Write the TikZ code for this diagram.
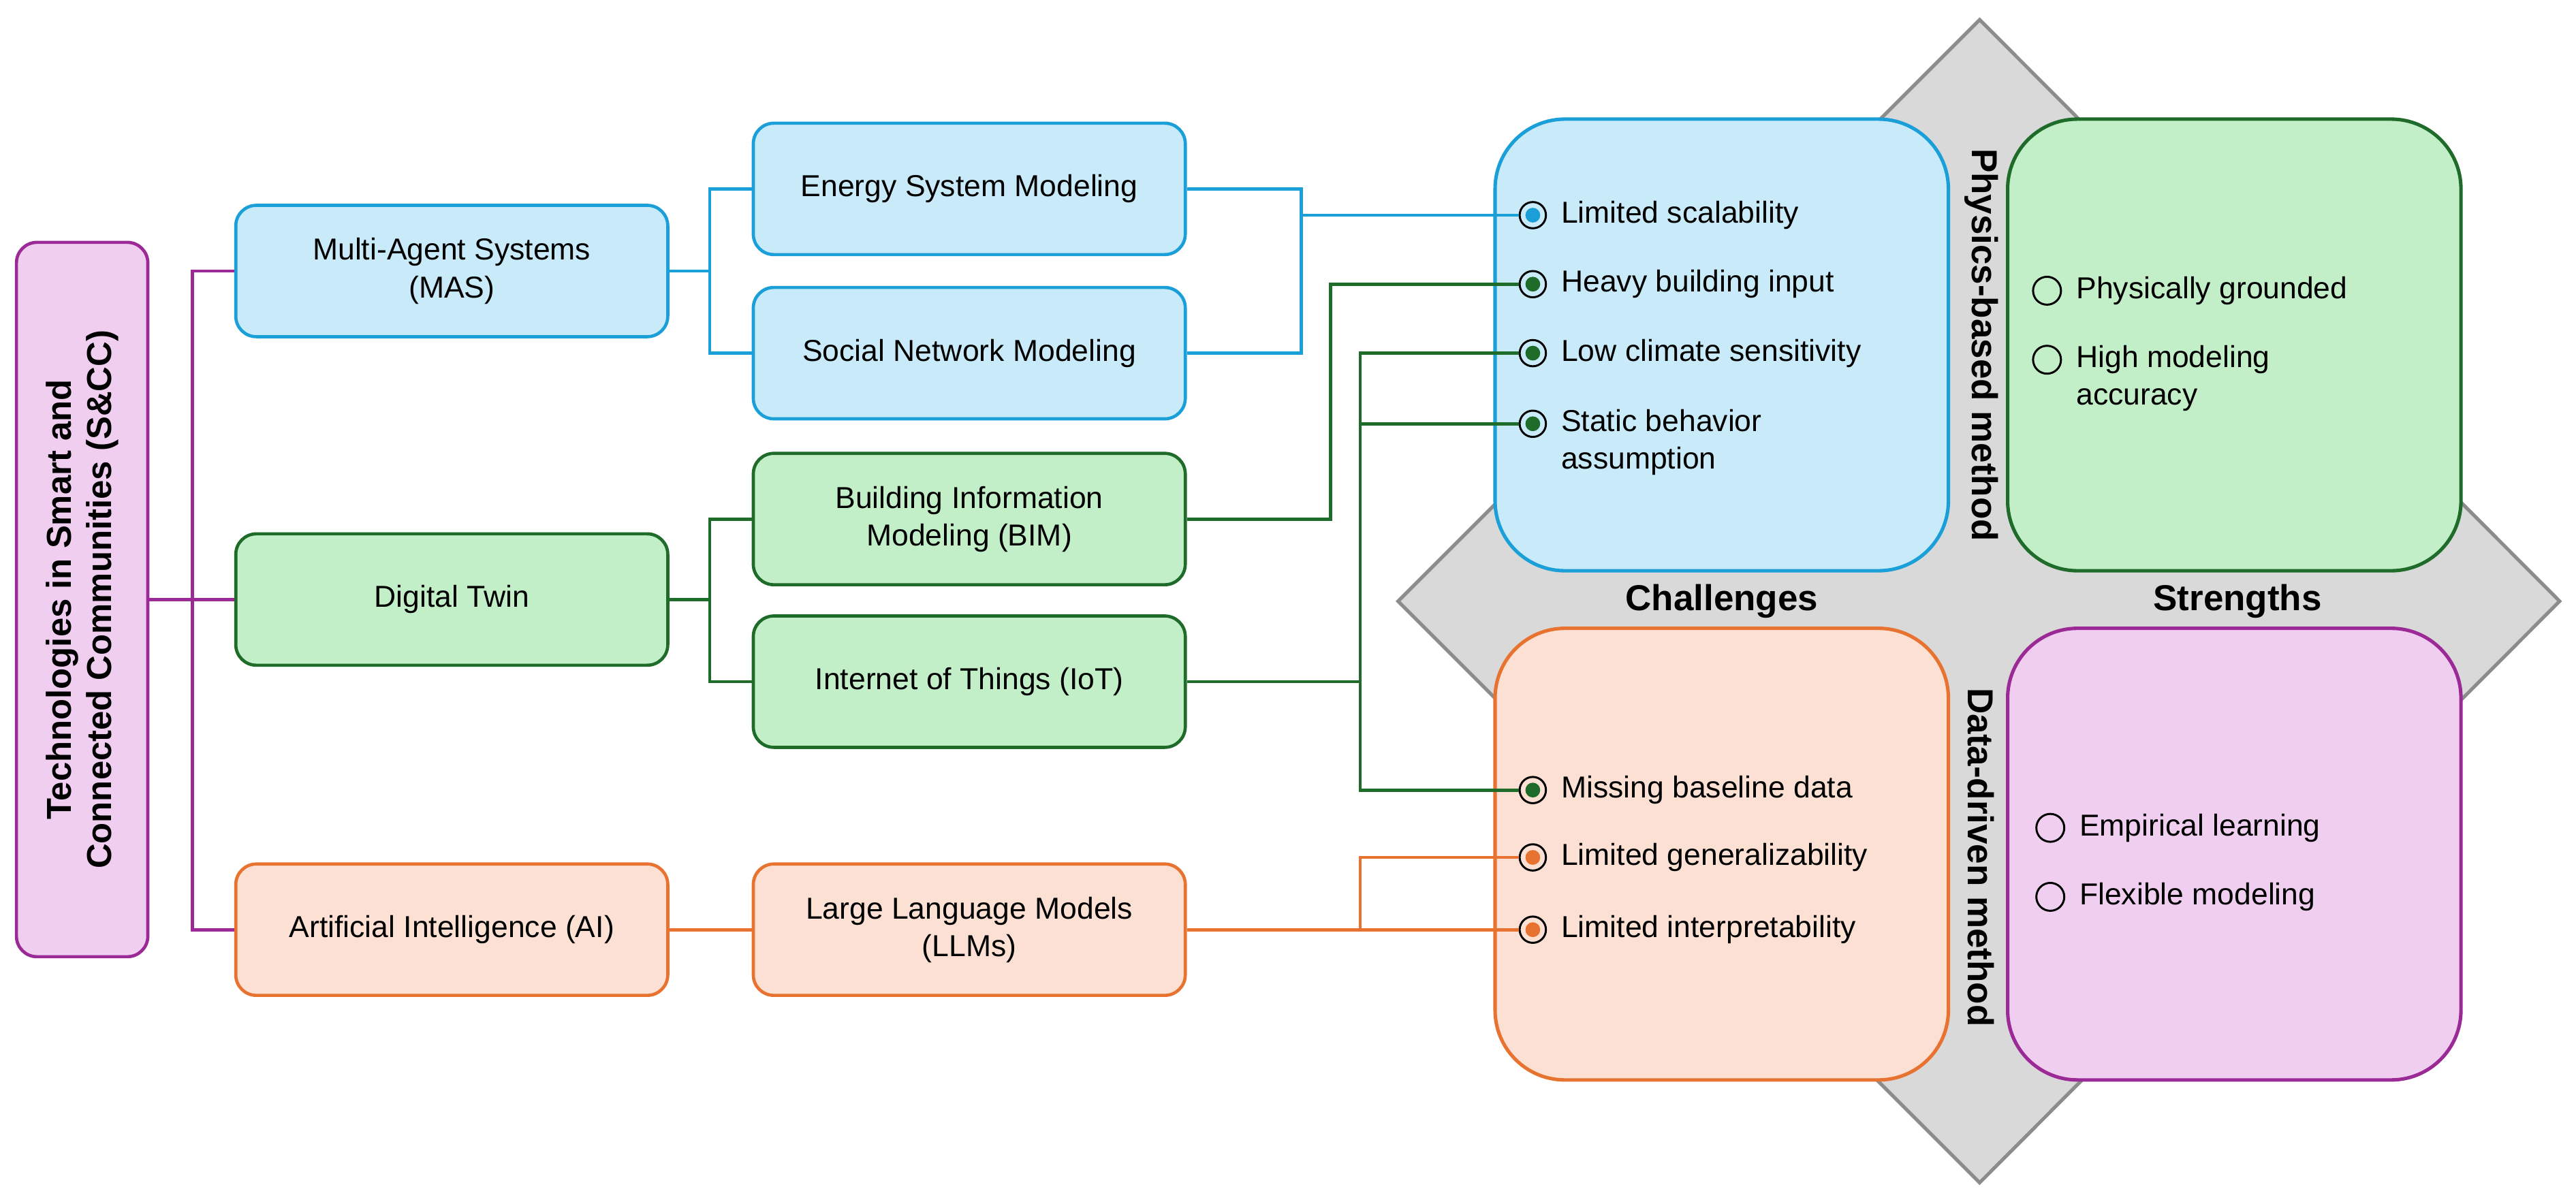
\documentclass[tikz,border=0pt]{standalone}
\usepackage{fontspec}
\setmainfont{Liberation Sans}
\usetikzlibrary{positioning}
\definecolor{bluefill}{HTML}{C9EBF9}
\definecolor{blueline}{HTML}{1A9FD8}
\definecolor{greenfill}{HTML}{C2EFC8}
\definecolor{greenline}{HTML}{1E6B2A}
\definecolor{orangefill}{HTML}{FBE0D3}
\definecolor{orangeline}{HTML}{E87330}
\definecolor{purplefill}{HTML}{F0CEF0}
\definecolor{purpleline}{HTML}{9B2A96}
\tikzset{
  box/.style={draw=#1line, fill=#1fill, line width=1.1pt, rounded corners=0.25cm,
    minimum width=5.26cm, minimum height=1.6cm, align=center, font=\fontsize{10.5}{13}\selectfont},
  quad/.style={draw=#1line, fill=#1fill, line width=1.2pt, rounded corners=0.85cm,
    minimum width=5.52cm, minimum height=5.5cm},
  bul/.style={circle, draw=black, line width=0.7pt, minimum size=0.32cm, inner sep=0,
    path picture={\fill[#1] (path picture bounding box.center) circle (0.09cm);}},
  hol/.style={circle, draw=black, line width=0.7pt, minimum size=0.34cm, inner sep=0},
  lab/.style={right=0.05cm, font=\fontsize{10.5}{13}\selectfont, align=left},
  wire/.style={line width=1.1pt, draw=#1line},
}
\begin{document}
\begin{tikzpicture}[x=0.02cm, y=-0.02cm]
\useasboundingbox (0,0) rectangle (1568,733);
% gray diamond behind the quadrants
\filldraw[fill=gray!30, draw=gray!90, line width=1.2pt] (1205,12) -- (1558,366) -- (1205,720) -- (851,366) -- cycle;

% quadrants
\node[quad=blue] (phy) at (1048,210) {};
\node[quad=green] (phs) at (1360,210) {};
\node[quad=orange] (dac) at (1048,520) {};
\node[quad=purple] (das) at (1360,520) {};
\node[font=\fontsize{12.5}{15}\selectfont\bfseries] (chal) at (1048,366) {Challenges};
\node[font=\fontsize{12.5}{15}\selectfont\bfseries] (stre) at (1362,366) {Strengths};
\node[rotate=-90, font=\fontsize{12.5}{15}\selectfont\bfseries] (pbm) at (1206,210) {Physics-based method};
\node[rotate=-90, font=\fontsize{12.5}{15}\selectfont\bfseries] (ddm) at (1206,522) {Data-driven method};

% left tree
\node[box=purple, rotate=90, minimum width=8.7cm, font=\fontsize{12}{14}\selectfont\bfseries] (tech) at (50,365)
  {Technologies in Smart and\\Connected Communities (S\&CC)};
\node[box=blue] (mas) at (275,165) {Multi-Agent Systems\\(MAS)};
\node[box=green] (dt) at (275,365) {Digital Twin};
\node[box=orange] (ai) at (275,566) {Artificial Intelligence (AI)};
\node[box=blue] (esm) at (590,115) {Energy System Modeling};
\node[box=blue] (snm) at (590,215) {Social Network Modeling};
\node[box=green] (bim) at (590,316) {Building Information\\Modeling (BIM)};
\node[box=green] (iot) at (590,415) {Internet of Things (IoT)};
\node[box=orange] (llm) at (590,566) {Large Language Models\\(LLMs)};

% challenge bullets
\node[bul=blueline] (b1) at (933,131) {};
\node[bul=greenline] (b2) at (933,173) {};
\node[bul=greenline] (b3) at (933,215) {};
\node[bul=greenline] (b4) at (933,258) {};
\node[bul=greenline] (b5) at (933,481) {};
\node[bul=orangeline] (b6) at (933,522) {};
\node[bul=orangeline] (b7) at (933,566) {};
\node[lab] at (b1.east) {Limited scalability};
\node[lab] at (b2.east) {Heavy building input};
\node[lab] at (b3.east) {Low climate sensitivity};
\node[lab, anchor=north west] at ([yshift=0.3cm]b4.east) {Static behavior\\assumption};
\node[lab] at (b5.east) {Missing baseline data};
\node[lab] at (b6.east) {Limited generalizability};
\node[lab] at (b7.east) {Limited interpretability};

% strength bullets
\node[hol] (s1) at (1246,177) {};
\node[hol] (s2) at (1246,219) {};
\node[hol] (s3) at (1248,504) {};
\node[hol] (s4) at (1248,546) {};
\node[lab] at (s1.east) {Physically grounded};
\node[lab, anchor=north west] at ([yshift=0.3cm]s2.east) {High modeling\\accuracy};
\node[lab] at (s3.east) {Empirical learning};
\node[lab] at (s4.east) {Flexible modeling};

% junctions
\coordinate (jp) at (117,365);
\coordinate (jb) at (432,165);
\coordinate (jg) at (432,365);
\coordinate (je) at (792,131);
\coordinate (jm) at (810,173);
\coordinate (ji) at (828,415);
\coordinate (jl) at (828,566);

% connectors
\draw[wire=purple] (tech.south) -- (jp);
\draw[wire=purple] (jp) |- (mas.west);
\draw[wire=purple] (jp) -- (dt.west);
\draw[wire=purple] (jp) |- (ai.west);
\draw[wire=blue] (mas.east) -- (jb);
\draw[wire=blue] (jb) |- (esm.west);
\draw[wire=blue] (jb) |- (snm.west);
\draw[wire=green] (dt.east) -- (jg);
\draw[wire=green] (jg) |- (bim.west);
\draw[wire=green] (jg) |- (iot.west);
\draw[wire=orange] (ai.east) -- (llm.west);
\draw[wire=blue] (esm.east) -| (je);
\draw[wire=blue] (snm.east) -| (je);
\draw[wire=blue] (je) -- (b1);
\draw[wire=green] (bim.east) -| (jm) -- (b2);
\draw[wire=green] (iot.east) -- (ji);
\draw[wire=green] (ji) |- (b3);
\draw[wire=green] (ji) |- (b4);
\draw[wire=green] (ji) |- (b5);
\draw[wire=orange] (llm.east) -- (b7);
\draw[wire=orange] (jl) |- (b6);
\end{tikzpicture}
\end{document}
